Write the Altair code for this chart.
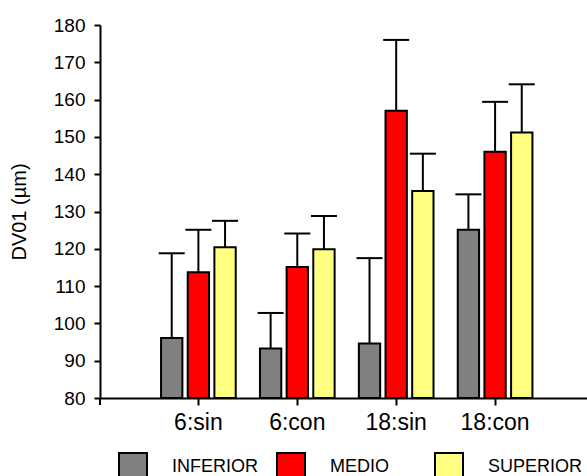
import altair as alt
import pandas as pd

# Groups (dose:treatment) and tissue regions
groups = ["6:sin", "6:con", "18:sin", "18:con"]
regions = ["INFERIOR", "MEDIO", "SUPERIOR"]
colors = ["#808080", "#FF0000", "#FFFF80"]

# Mean DV01 (µm) per group for each region
mean_inferior = [96.1, 93.3, 94.6, 125.1]
mean_medio = [113.7, 115.1, 157.0, 146.0]
mean_superior = [120.4, 119.9, 135.5, 151.2]

# Upper error (SD) per group for each region
sd_inferior = [22.7, 9.5, 22.9, 9.5]
sd_medio = [11.4, 9.0, 19.0, 13.4]
sd_superior = [7.1, 8.9, 10.0, 12.9]

rows = []
for region, means, sds in zip(
    regions,
    [mean_inferior, mean_medio, mean_superior],
    [sd_inferior, sd_medio, sd_superior],
):
    for g, m, s in zip(groups, means, sds):
        rows.append({"grupo": g, "region": region, "media": m, "sup": round(m + s, 2)})
df = pd.DataFrame(rows)

W, H = 487, 373
SANS = "Liberation Sans, Arial, Helvetica, sans-serif"
YTITLE = "DV01 (µm)"

x_enc = alt.X(
    "grupo:N",
    sort=groups,
    title=None,
    scale=alt.Scale(paddingInner=0.245, paddingOuter=0.5846, align=0.528),
    axis=alt.Axis(labelAngle=0),
)
xoff_enc = alt.XOffset(
    "region:N", sort=regions, scale=alt.Scale(paddingInner=0.2, paddingOuter=0)
)
yscale = alt.Scale(domain=[80, 180], zero=False, nice=False)
yaxis = alt.Axis(values=list(range(80, 181, 10)))

base = alt.Chart(df)

whiskers = base.mark_rule(color="black", strokeWidth=2).encode(
    x=x_enc,
    xOffset=xoff_enc,
    y=alt.Y("media:Q", scale=yscale, axis=yaxis, title=YTITLE),
    y2="sup:Q",
)

caps = base.mark_tick(
    color="black", thickness=2, size=26, opacity=1, orient="horizontal"
).encode(
    x=x_enc,
    xOffset=xoff_enc,
    y=alt.Y("sup:Q", scale=yscale, axis=yaxis, title=YTITLE),
)

bars = base.mark_bar(stroke="black", strokeWidth=2, opacity=1).encode(
    x=x_enc,
    xOffset=xoff_enc,
    y=alt.Y("media:Q", scale=yscale, axis=yaxis, title=YTITLE),
    y2=alt.datum(80),
    color=alt.Color(
        "region:N",
        sort=regions,
        scale=alt.Scale(domain=regions, range=colors),
        legend=alt.Legend(
            title=None,
            orient="none",
            legendX=18,
            legendY=427,
            direction="horizontal",
            symbolType="square",
            symbolSize=784,
            symbolStrokeColor="black",
            symbolStrokeWidth=2,
            symbolOpacity=1,
            labelFont=SANS,
            labelFontSize=18,
            labelColor="black",
            labelOffset=24,
            columnPadding=6,
            gridAlign="all",
            padding=0,
        ),
    ),
)

# small downward tick where the axes meet
origin_tick = alt.Chart(pd.DataFrame({"k": [0]})).mark_rule(
    color="black", strokeWidth=2
).encode(x=alt.value(0), y=alt.value(H), y2=alt.value(H + 7))

chart = (
    alt.layer(whiskers, caps, bars, origin_tick)
    .properties(
        width=W,
        height=H,
        padding={"left": 100, "top": 25, "right": 0, "bottom": 78},
        autosize=alt.AutoSizeParams(type="none"),
        background="white",
    )
    .configure_view(stroke=None)
    .configure_axis(
        grid=False,
        domainColor="black",
        domainWidth=2,
        tickColor="black",
        tickWidth=2,
        labelColor="black",
        titleColor="black",
    )
    .configure_axisY(
        tickSize=6,
        labelPadding=9,
        labelFont=SANS,
        labelFontSize=19,
        titleFont=SANS,
        titleFontSize=20,
        titleFontWeight="normal",
        titlePadding=24,
    )
    .configure_axisX(
        tickSize=7,
        labelPadding=6,
        labelFont=SANS,
        labelFontSize=23,
    )
)

chart.save("out.html", embed_options={"renderer": "svg", "actions": False})
